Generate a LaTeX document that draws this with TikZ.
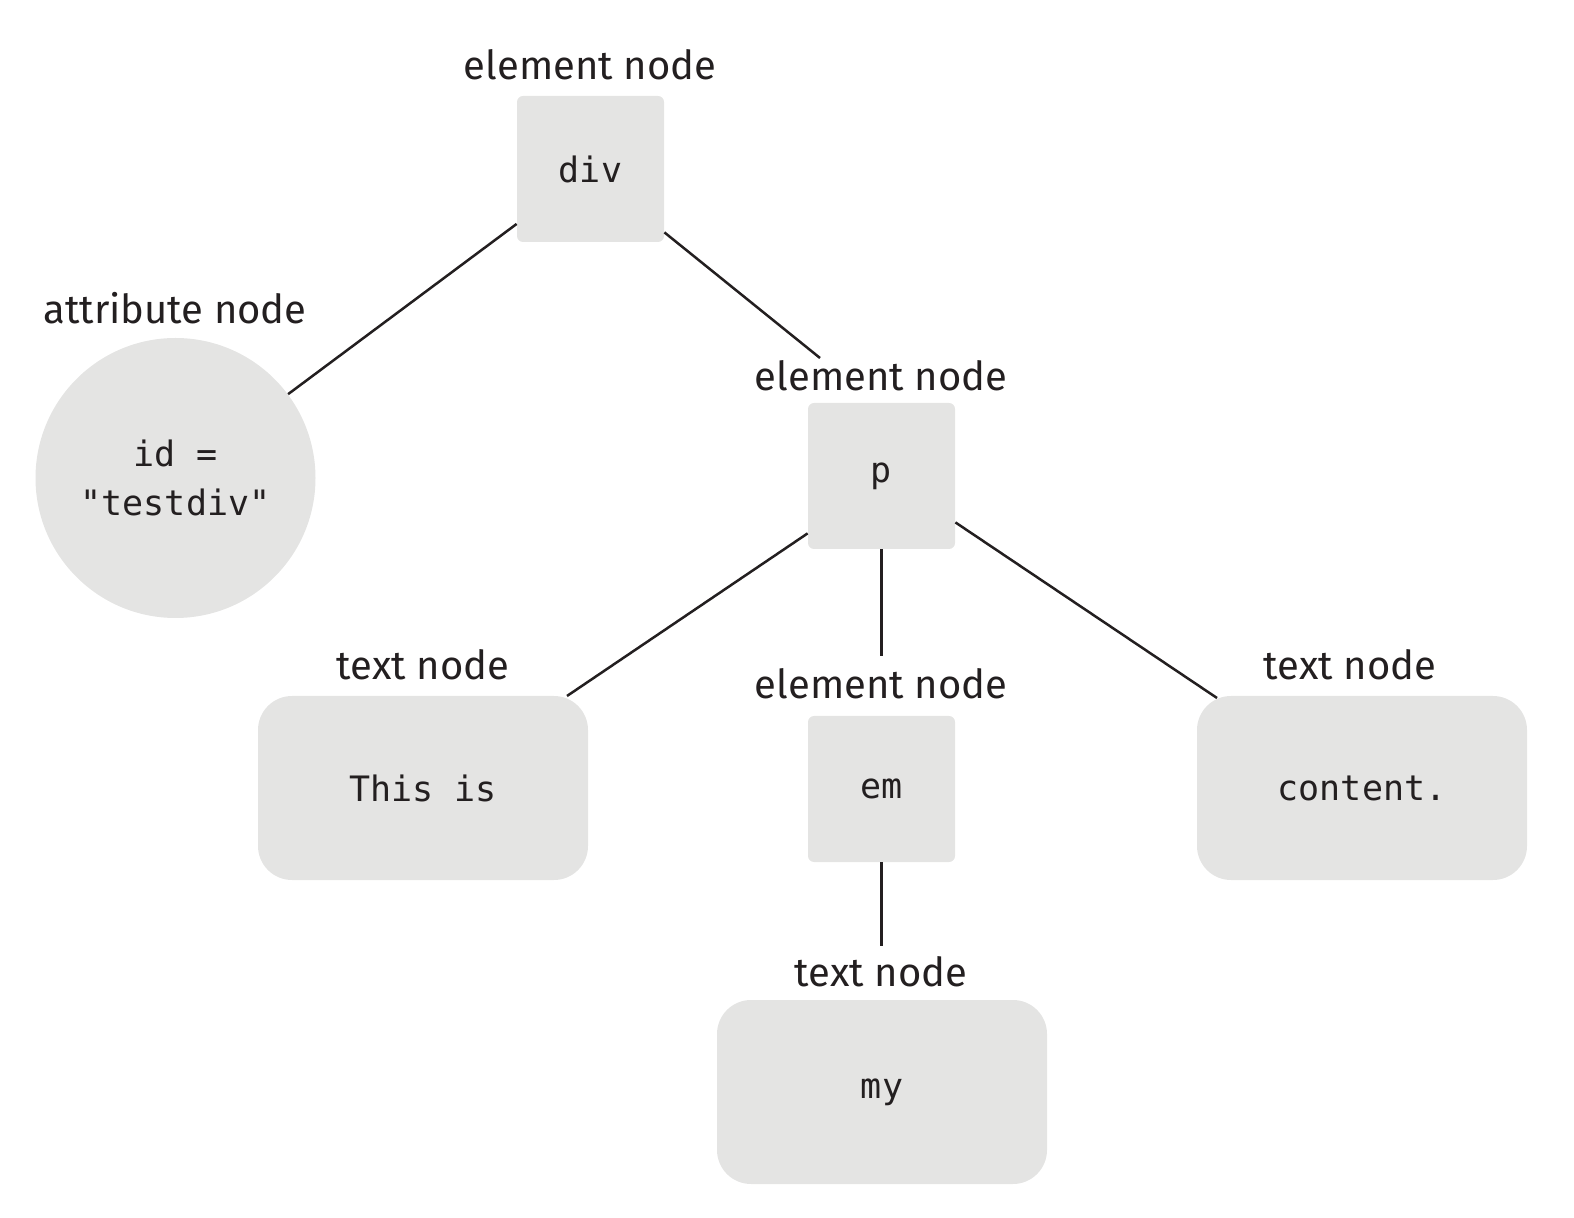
\documentclass[tikz,border=0pt]{standalone}
\usepackage{fontspec}
\setmainfont{Fira Sans}
\setmonofont{DejaVu Sans Mono}
\usetikzlibrary{calc}
\definecolor{boxfill}{HTML}{E4E4E3}
\definecolor{ink}{HTML}{231F20}
\begin{document}
\begin{tikzpicture}[x=0.5pt,y=-0.5pt,
  sqbox/.style={fill=boxfill,draw=none,rounded corners=3pt,minimum width=73.5pt,minimum height=73pt,inner sep=0pt,font=\fontsize{17.5}{24.5}\selectfont\ttfamily,text=ink},
  txtbox/.style={fill=boxfill,draw=none,rounded corners=17pt,minimum width=165pt,minimum height=92pt,inner sep=0pt,font=\fontsize{17.5}{24.5}\selectfont\ttfamily,text=ink},
  attrcirc/.style={circle,fill=boxfill,draw=none,minimum size=140pt,inner sep=0pt,align=center,font=\fontsize{17.5}{24.5}\selectfont\ttfamily,text=ink},
  lbl/.style={anchor=base,inner sep=0pt,font=\fontsize{20}{24}\selectfont,text=ink},
  conn/.style={draw=ink,line width=1.25pt}]
\useasboundingbox (0,0) rectangle (1574,1218);
% nodes
\node[sqbox] (div) at (590.5,169) {div};
\node[attrcirc] (attr) at (175.5,478) {id =\\"testdiv"};
\node[sqbox] (p) at (881.5,476) {p};
\node[txtbox] (this) at (423,788) {This is};
\node[sqbox] (em) at (881.5,789) {em};
\node[txtbox] (content) at (1362,788) {content.};
\node[txtbox] (my) at (882,1092) {my};
% labels
\node[lbl] (divlbl) at (590,80) {element node};
\node[lbl] (attrlbl) at (175,324) {attribute node};
\node[lbl] (plbl) at (881,391) {element node};
\node[lbl] (thislbl) at (423,680) {text node};
\node[lbl] (emlbl) at (881,699) {element node};
\node[lbl] (contentlbl) at (1350,680) {text node};
\node[lbl] (mylbl) at (881,986) {text node};
% connector free ends
\coordinate (divpend) at (820,358);
\coordinate (pemend) at (881.5,656);
\coordinate (thisend) at (567,696);
\coordinate (contentend) at (1217,698);
\coordinate (emmyend) at (881.5,946);
% connectors
\draw[conn] (div) -- (attr);
\draw[conn] ($(div.south east)+(0,-10)$) -- (divpend);
\draw[conn] ($(p.south west)+(0,-16)$) -- (thisend);
\draw[conn] (p.south) -- (pemend);
\draw[conn] ($(p.south east)+(0,-27)$) -- (contentend);
\draw[conn] (em.south) -- (emmyend);
\end{tikzpicture}
\end{document}
